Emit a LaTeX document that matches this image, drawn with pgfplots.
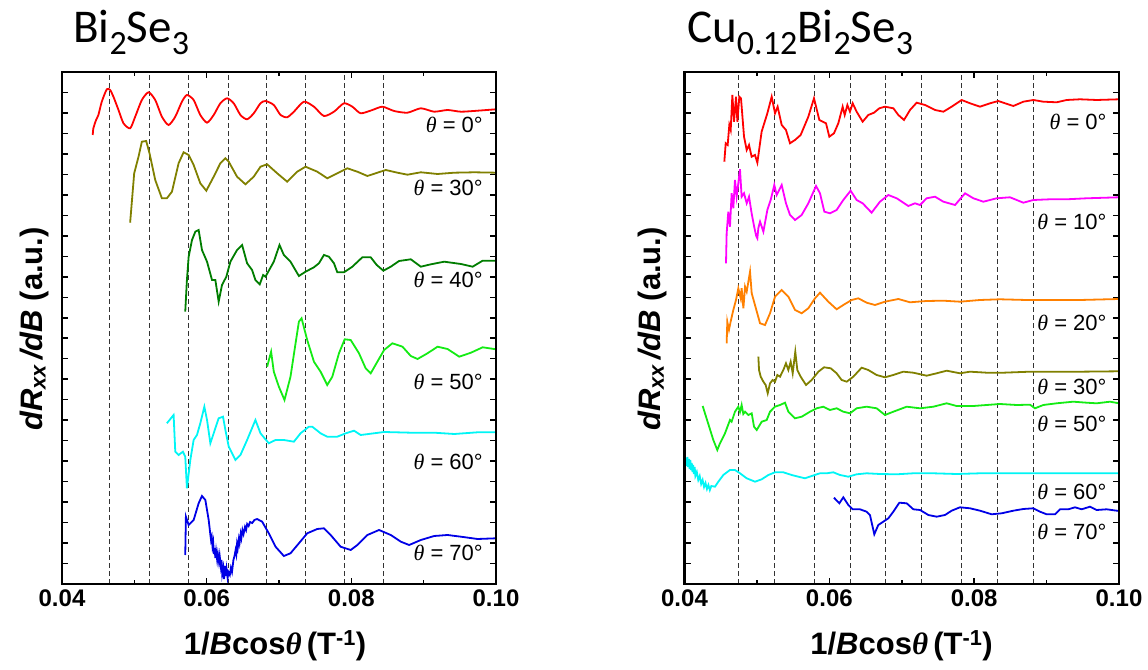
\documentclass[border=0pt]{standalone}
\usepackage{fontspec}
\setmainfont{Liberation Sans}
\newfontfamily\titlefont{Carlito}
\newfontfamily\thetafont{Liberation Serif}
\usepackage{pgfplots}
\pgfplotsset{compat=1.18}
\definecolor{cRed}{RGB}{255,0,0}
\definecolor{cOlive}{RGB}{128,128,0}
\definecolor{cDGreen}{RGB}{0,125,0}
\definecolor{cLime}{RGB}{20,235,20}
\definecolor{cCyan}{RGB}{0,245,245}
\definecolor{cBlue}{RGB}{0,0,230}
\definecolor{cMag}{RGB}{255,0,255}
\definecolor{cOrange}{RGB}{255,128,0}
\newcommand{\ang}[1]{{\fontsize{22}{22}\selectfont{\thetafont\itshape θ} = #1°}}
\newcommand{\sub}[1]{\raisebox{-12pt}{\fontsize{34}{34}\selectfont #1}}
\newcommand{\ylab}{{\fontsize{31}{31}\selectfont\bfseries\itshape dR\textsubscript{xx}\,/dB \upshape(a.u.)}}
\newcommand{\xlab}{{\fontsize{31}{31}\selectfont\bfseries 1/\textit{B}cos{\thetafont\bfseries\itshape θ}\,(T\textsuperscript{-1})}}
\pgfplotsset{
  myax/.style={
    scale only axis, height=512pt,
    xmin=0.04, xmax=0.10, ymin=0, ymax=512,
    xtick={0.04,0.06,0.08,0.10},
    minor xtick={0.05,0.07,0.09},
    ytick={0,20.48,...,512}, yticklabels={},
    tick align=inside,
    major tick length=6pt, minor tick length=4pt,
    every tick/.style={black, line width=1.5pt},
    axis line style={line width=2.6pt},
    xticklabel style={font=\fontsize{24}{24}\selectfont\bfseries, yshift=-2pt,
      /pgf/number format/.cd, fixed, fixed zerofill, precision=2, assume math mode=true},
    every axis plot/.append style={line width=1.8pt},
  },
  dl/.style={black!80, line width=1pt, dash pattern=on 5pt off 3pt},
}
\begin{document}
\begin{tikzpicture}
\useasboundingbox (0,0) rectangle (1148pt,669pt);
% ---------------- left panel ----------------
\begin{axis}[myax, name=L, width=434pt, at={(62pt,85pt)}, anchor=south west]
\pgfplotsinvokeforeach{0.04651,0.05206,0.05742,0.06304,0.06827,0.07367,0.07903,0.08444}{
  \addplot[dl] coordinates {(#1,0) (#1,512)};
}
\addplot[cRed, smooth, tension=0.4] coordinates {(0.04425,449) (0.04434,455.7) (0.04471,464) (0.04503,469) (0.04550,482.3) (0.04619,494.7) (0.04665,494) (0.04711,487.3) (0.04781,474) (0.04850,460.7) (0.04942,455.7) (0.05012,467.3) (0.05104,484) (0.05196,491.7) (0.05289,484) (0.05381,467.3) (0.05473,459) (0.05566,467.3) (0.05658,482.3) (0.05727,489) (0.05820,484) (0.05912,469) (0.06005,461.3) (0.06097,469) (0.06189,480.7) (0.06282,485.7) (0.06374,480.7) (0.06467,469) (0.06559,464.7) (0.06651,470.7) (0.06744,480.7) (0.06813,483) (0.06928,479) (0.07021,469) (0.07113,466.7) (0.07206,472.3) (0.07344,482.3) (0.07483,477.3) (0.07621,468) (0.07760,472.3) (0.07898,480.7) (0.08014,477.3) (0.08129,470.7) (0.08291,474) (0.08430,477.3) (0.08591,473) (0.08776,471.3) (0.08961,475.7) (0.09145,472.3) (0.09330,474) (0.09515,472.3) (0.09746,473.3) (0.1000,474.7)};
\addplot[cOlive] coordinates {(0.04942,361.3) (0.04998,410.7) (0.05058,427.3) (0.05104,442.3) (0.05164,443) (0.05210,430.7) (0.05289,404) (0.05381,385.7) (0.05450,385.7) (0.05520,392.3) (0.05612,420.7) (0.05681,431.7) (0.05751,429) (0.05820,419) (0.05912,400.7) (0.05995,393.3) (0.06097,407.3) (0.06189,420.7) (0.06259,425.7) (0.06305,422.3) (0.06420,407.3) (0.06536,399.7) (0.06651,407.3) (0.06744,417.3) (0.06836,419.7) (0.06975,410.7) (0.07113,402.3) (0.07252,412.3) (0.07367,417.3) (0.07529,412.3) (0.07667,405.7) (0.07806,410.7) (0.07945,415.7) (0.08083,412.3) (0.08222,408) (0.08360,411.3) (0.08476,414) (0.08637,411.3) (0.08776,409.3) (0.08961,411.7) (0.09192,410) (0.09423,411.3) (0.09700,411.7) (0.1000,411.3)};
\addplot[cDGreen] coordinates {(0.05704,272.3) (0.05727,304) (0.05751,327.3) (0.05797,344) (0.05843,352.3) (0.05889,354) (0.05935,334) (0.06005,322.3) (0.06074,304) (0.06120,304) (0.06166,282.3) (0.06212,299) (0.06272,307.3) (0.06328,322.3) (0.06420,334) (0.06490,339) (0.06559,320.7) (0.06628,314) (0.06674,304) (0.06734,299.7) (0.06781,309) (0.06813,307.3) (0.06928,322.3) (0.07007,339) (0.07067,329) (0.07159,322.3) (0.07275,308) (0.07367,312.3) (0.07483,316.7) (0.07552,320.7) (0.07621,329) (0.07690,327.3) (0.07760,320.7) (0.07806,311.7) (0.07898,311.7) (0.08014,317.3) (0.08152,326.7) (0.08268,326.7) (0.08351,319) (0.08443,313.3) (0.08545,317.3) (0.08660,323) (0.08822,324.7) (0.08961,317.3) (0.09100,319.7) (0.09284,322.3) (0.09515,320) (0.09677,317.3) (0.09815,323.3) (0.1000,323.3)};
\addplot[cLime] coordinates {(0.06836,217.3) (0.06891,232.3) (0.06928,212.3) (0.06998,197.3) (0.07076,184) (0.07159,207.3) (0.07229,240.7) (0.07275,262.3) (0.07312,265.7) (0.07390,244) (0.07483,222.3) (0.07575,212.3) (0.07667,199) (0.07737,207.3) (0.07829,230.7) (0.07908,244.7) (0.07991,244) (0.08106,230.7) (0.08198,215.7) (0.08268,210.7) (0.08360,222.3) (0.08453,234) (0.08568,240.7) (0.08707,237.3) (0.08822,228) (0.08915,225) (0.09053,230.7) (0.09192,237.3) (0.09330,235) (0.09492,227.3) (0.09654,231.3) (0.09815,236.7) (0.1000,234.7)};
\addplot[cCyan] coordinates {(0.05450,160.7) (0.05543,169) (0.05566,132.3) (0.05612,129) (0.05672,132.3) (0.05704,127.3) (0.05727,95.7) (0.05774,124) (0.05820,144) (0.05866,149) (0.05912,160.7) (0.05968,177.3) (0.06005,164) (0.06051,140.7) (0.06097,150.7) (0.06166,165.7) (0.06226,167.3) (0.06259,154) (0.06305,137.3) (0.06397,124) (0.06467,129) (0.06559,144) (0.06674,164) (0.06744,150.7) (0.06859,140.7) (0.06952,144) (0.07067,144) (0.07206,142.3) (0.07298,150.7) (0.07413,157.3) (0.07460,157.3) (0.07575,150.7) (0.07667,147.3) (0.07806,147.3) (0.07922,150.7) (0.08037,153.3) (0.08129,149) (0.08314,150.7) (0.08453,152) (0.08822,151.3) (0.09145,151.3) (0.09423,150) (0.09746,151.7) (0.1000,151.7)};
\addplot[cBlue] coordinates {(0.05704,29) (0.05713,67.3) (0.05751,59) (0.05820,64) (0.05889,80.7) (0.05935,88) (0.05982,84) (0.06028,64) (0.0605,50) (0.0606,44) (0.0607,47) (0.0608,38) (0.0609,42) (0.0610,30) (0.0611,36) (0.0612,26) (0.0613,33) (0.06145,24) (0.06155,30) (0.0617,22) (0.0618,28) (0.06195,18) (0.06205,24) (0.06215,10) (0.0623,16) (0.0624,5) (0.06255,18) (0.06265,8) (0.06275,15) (0.0629,6) (0.0630,12) (0.0632,9) (0.06335,16) (0.0635,12) (0.0637,24) (0.06385,28) (0.0640,34) (0.0641,30) (0.0642,40) (0.0643,36) (0.06445,45) (0.06455,41) (0.0647,50) (0.0648,46) (0.06495,54) (0.0651,50) (0.0653,57) (0.06545,54) (0.0656,60) (0.0658,58) (0.0660,62) (0.0663,61) (0.0666,64) (0.06697,65) (0.06767,62.3) (0.06859,50.7) (0.06952,37.3) (0.07067,28) (0.07159,30.7) (0.07275,40.7) (0.07390,50.7) (0.07529,55) (0.07621,55.7) (0.07714,49) (0.07852,37.3) (0.07991,34) (0.08083,39) (0.08222,49) (0.08383,54) (0.08545,49) (0.08684,42.3) (0.08799,39) (0.08961,44) (0.09145,48) (0.09330,49) (0.09515,47.3) (0.09746,45) (0.1000,45.7)};
\node[anchor=east, inner sep=0pt] at (axis cs:0.0982,459) {\ang{0}};
\node[anchor=east, inner sep=0pt] at (axis cs:0.0982,396) {\ang{30}};
\node[anchor=east, inner sep=0pt] at (axis cs:0.0982,304) {\ang{40}};
\node[anchor=east, inner sep=0pt] at (axis cs:0.0982,202) {\ang{50}};
\node[anchor=east, inner sep=0pt] at (axis cs:0.0982,122) {\ang{60}};
\node[anchor=east, inner sep=0pt] at (axis cs:0.0982,31) {\ang{70}};
\end{axis}
\draw[line width=2.6pt] (L.south west) rectangle (L.north east);
% ---------------- right panel ----------------
\begin{axis}[myax, name=R, width=434.5pt, at={(684.5pt,85pt)}, anchor=south west]
\pgfplotsinvokeforeach{0.04748,0.05246,0.05793,0.06299,0.06773,0.07266,0.07819,0.08320,0.08813}{
  \addplot[dl] coordinates {(#1,0) (#1,512)};
}
\addplot[cRed] coordinates {(0.04550,422.3) (0.04569,440.7) (0.04596,439) (0.04619,459) (0.04638,454) (0.04661,489) (0.04684,462.3) (0.04711,487.3) (0.04730,462.3) (0.04757,487.3) (0.04780,485.7) (0.04822,447.3) (0.04859,434) (0.04891,439) (0.04927,427.3) (0.04973,429) (0.05006,421.3) (0.05065,452.3) (0.05144,470.7) (0.05204,487.3) (0.05250,470.7) (0.05286,477.3) (0.05342,459) (0.05401,454) (0.05457,440.7) (0.05526,444) (0.05604,449) (0.05710,467.3) (0.05788,485.7) (0.05862,464) (0.05954,460.7) (0.06000,447.3) (0.06064,450.7) (0.06124,460.7) (0.06184,477.3) (0.06212,469) (0.06249,479) (0.06285,472.3) (0.06322,480.7) (0.06377,472.3) (0.06460,462.3) (0.06538,469) (0.06617,471.3) (0.06690,475.7) (0.06768,477.3) (0.06884,475.7) (0.06953,469) (0.07031,464) (0.07114,474) (0.07206,481.3) (0.07321,479) (0.07460,474) (0.07575,472.3) (0.07689,477.3) (0.07827,484) (0.07943,480.7) (0.08081,477.3) (0.08219,480.7) (0.08334,483) (0.08426,480.7) (0.08541,478) (0.08679,482.3) (0.08817,484) (0.08955,482.3) (0.09139,481.7) (0.09277,484) (0.09461,484.7) (0.09692,484) (0.1000,484.7)};
\addplot[cMag] coordinates {(0.04573,320.7) (0.04582,350.7) (0.04605,372.3) (0.04628,357.3) (0.04651,390.7) (0.04674,375.7) (0.04697,404) (0.04720,387.3) (0.04743,400.7) (0.04766,414.7) (0.04789,387.3) (0.04822,390.7) (0.04859,380.7) (0.04891,387.3) (0.04927,370.7) (0.04960,358) (0.04990,348) (0.05006,345.7) (0.05020,356) (0.05043,362.3) (0.05089,352.3) (0.05144,374) (0.05190,384) (0.05240,399) (0.05273,389) (0.05342,399) (0.05401,380.7) (0.05457,369) (0.05526,364) (0.05618,369) (0.05710,380.7) (0.05816,398) (0.05871,390.7) (0.05931,372.3) (0.06009,370.7) (0.06101,374) (0.06193,384) (0.06294,393.3) (0.06377,384) (0.06460,380.7) (0.06584,371.3) (0.06699,382.3) (0.06815,389) (0.06930,385.7) (0.07091,378) (0.07183,380.7) (0.07252,379) (0.07344,385.7) (0.07459,387.3) (0.07575,382.3) (0.07736,379) (0.07874,390.7) (0.07989,385.7) (0.08127,382.3) (0.08311,385.7) (0.08495,386.7) (0.08679,381.3) (0.08817,384) (0.09047,384.7) (0.09277,384.7) (0.09553,385.7) (0.1000,386.7)};
\addplot[cOrange] coordinates {(0.04582,240.7) (0.04591,262.3) (0.04614,254) (0.04637,262.3) (0.04674,274) (0.04711,284) (0.04743,295.7) (0.04776,285.7) (0.04789,295.7) (0.04813,275.7) (0.04836,297.3) (0.04859,292.3) (0.04882,302.3) (0.04905,312.3) (0.04928,290.7) (0.04973,279) (0.05043,260.7) (0.05112,259) (0.05181,270.7) (0.05250,287.3) (0.05342,294) (0.05434,287.3) (0.05526,274) (0.05618,270.7) (0.05710,275.7) (0.05802,285.7) (0.05871,291.3) (0.05986,282.3) (0.06101,274.7) (0.06193,279) (0.06308,284) (0.06400,285.7) (0.06515,281.3) (0.06630,279) (0.06768,282.3) (0.06953,285) (0.07114,281.7) (0.07344,283) (0.07574,283.3) (0.07804,282.3) (0.08081,284) (0.08357,284.7) (0.08725,284) (0.09094,284) (0.09462,284) (0.1000,285)};
\addplot[cOlive] coordinates {(0.05020,227.3) (0.05029,214) (0.05052,207.3) (0.05089,202.3) (0.05121,199) (0.05149,190.7) (0.05181,200.7) (0.05217,204) (0.05250,202.3) (0.05282,209) (0.05319,207.3) (0.05365,214) (0.05401,220.7) (0.05434,214) (0.05466,222.3) (0.05494,210.7) (0.05530,232.3) (0.05558,214) (0.05604,207.3) (0.05678,199) (0.05756,204) (0.05849,212.3) (0.05927,216.7) (0.06019,215.7) (0.06101,210.7) (0.06170,204) (0.06240,202.3) (0.06331,207.3) (0.06446,216.3) (0.06538,214) (0.06653,209) (0.06768,206.7) (0.06883,209) (0.07021,212.3) (0.07160,211.3) (0.07344,208.3) (0.07482,210.7) (0.07620,213.3) (0.07804,210.7) (0.07942,212.3) (0.08173,211.3) (0.08403,211.3) (0.08771,212.3) (0.09139,212.3) (0.09462,212.3) (0.1000,212.7)};
\addplot[cLime] coordinates {(0.04251,178) (0.04398,144) (0.04453,134) (0.04490,140.7) (0.04559,150.7) (0.04628,164) (0.04651,162.3) (0.04697,172.3) (0.04743,177.3) (0.04766,172) (0.04789,179) (0.04812,170) (0.04836,172.3) (0.04882,169) (0.04928,170.7) (0.04960,157.3) (0.04997,154) (0.05066,162.3) (0.05135,164) (0.05181,172.3) (0.05250,177.3) (0.05319,179) (0.05388,181.3) (0.05434,172.3) (0.05526,165.7) (0.05618,167.3) (0.05733,172.3) (0.05825,175.7) (0.05917,177.3) (0.06009,174) (0.06101,175.7) (0.06193,172.3) (0.06285,170.7) (0.06377,175.7) (0.06515,177.3) (0.06653,175.7) (0.06768,169) (0.06884,172.3) (0.07068,177.3) (0.07252,175.7) (0.07436,177.3) (0.07620,180.7) (0.07758,178) (0.07988,178) (0.08172,179) (0.08356,180) (0.08586,179) (0.08771,179.3) (0.08840,175.7) (0.08955,179) (0.09139,180.7) (0.09369,182.3) (0.09553,181.3) (0.09691,180.7) (0.09876,182.3) (0.1000,180.7)};
\addplot[cCyan] coordinates {(0.0402,126) (0.0403,118) (0.0404,127) (0.0405,117) (0.0406,125) (0.0407,115) (0.0408,124) (0.0409,114) (0.0410,121) (0.0411,112) (0.0412,119) (0.0413,110) (0.0414,117) (0.0415,108) (0.0417,112) (0.0419,104) (0.0421,108) (0.0423,100) (0.0425,104) (0.0427,97) (0.0429,101) (0.0431,95) (0.0433,99) (0.0435,94) (0.0437,98) (0.04421,97.3) (0.04467,102.3) (0.04536,109) (0.04628,114) (0.04697,114) (0.04766,110.7) (0.04859,105.7) (0.04974,102.3) (0.05066,104.7) (0.05158,109) (0.05250,111.7) (0.05365,111.7) (0.05480,109) (0.05572,107.3) (0.05664,105.7) (0.05756,108) (0.05871,110.7) (0.05963,110.7) (0.06055,111.7) (0.06147,109) (0.06262,107.3) (0.06377,109.7) (0.06515,110.7) (0.06699,110) (0.06929,109.7) (0.07159,110.7) (0.07436,110.7) (0.07758,110) (0.08080,110.7) (0.08541,110.7) (0.09001,110.7) (0.09462,110.7) (0.1000,110.7)};
\addplot[cBlue] coordinates {(0.06064,86.3) (0.06138,80.7) (0.06193,86.7) (0.06262,79) (0.06322,74.7) (0.06423,74.7) (0.06515,72.3) (0.06561,69) (0.06621,49.7) (0.06676,59) (0.06745,62.3) (0.06815,65.7) (0.06884,72.3) (0.06967,81.3) (0.07068,80.7) (0.07160,74.7) (0.07252,74) (0.07367,69) (0.07482,67.3) (0.07597,69) (0.07689,73.3) (0.07804,76.7) (0.07942,75.7) (0.08081,73.3) (0.08242,69.7) (0.08380,70.7) (0.08541,73.3) (0.08679,75) (0.08817,75.7) (0.08909,72.3) (0.09001,69.7) (0.09116,69.7) (0.09185,74.7) (0.09300,74.7) (0.09392,76.7) (0.09484,74.7) (0.09599,77.3) (0.09691,74) (0.09829,74.7) (0.1000,73)};
\node[anchor=east, inner sep=0pt] at (axis cs:0.0983,462) {\ang{0}};
\node[anchor=east, inner sep=0pt] at (axis cs:0.0983,362) {\ang{10}};
\node[anchor=east, inner sep=0pt] at (axis cs:0.0983,261) {\ang{20}};
\node[anchor=east, inner sep=0pt] at (axis cs:0.0983,197) {\ang{30}};
\node[anchor=east, inner sep=0pt] at (axis cs:0.0983,160) {\ang{50}};
\node[anchor=east, inner sep=0pt] at (axis cs:0.0983,92) {\ang{60}};
\node[anchor=east, inner sep=0pt] at (axis cs:0.0983,52) {\ang{70}};
\end{axis}
\draw[line width=2.6pt] (R.south west) rectangle (R.north east);
% ---------------- titles and labels ----------------
\node[anchor=base west, inner sep=0pt] at (73pt,626pt) {\fontsize{47}{47}\selectfont\titlefont Bi\sub{2}Se\sub{3}};
\node[anchor=base west, inner sep=0pt] at (687pt,626pt) {\fontsize{47}{47}\selectfont\titlefont Cu\sub{0.12}Bi\sub{2}Se\sub{3}};
\node[rotate=90, inner sep=0pt] at (34pt,340pt) {\ylab};
\node[rotate=90, inner sep=0pt] at (652pt,340pt) {\ylab};
\node[anchor=base, inner sep=0pt] at (275pt,14pt) {\xlab};
\node[anchor=base, inner sep=0pt] at (901.5pt,14pt) {\xlab};
\end{tikzpicture}
\end{document}
